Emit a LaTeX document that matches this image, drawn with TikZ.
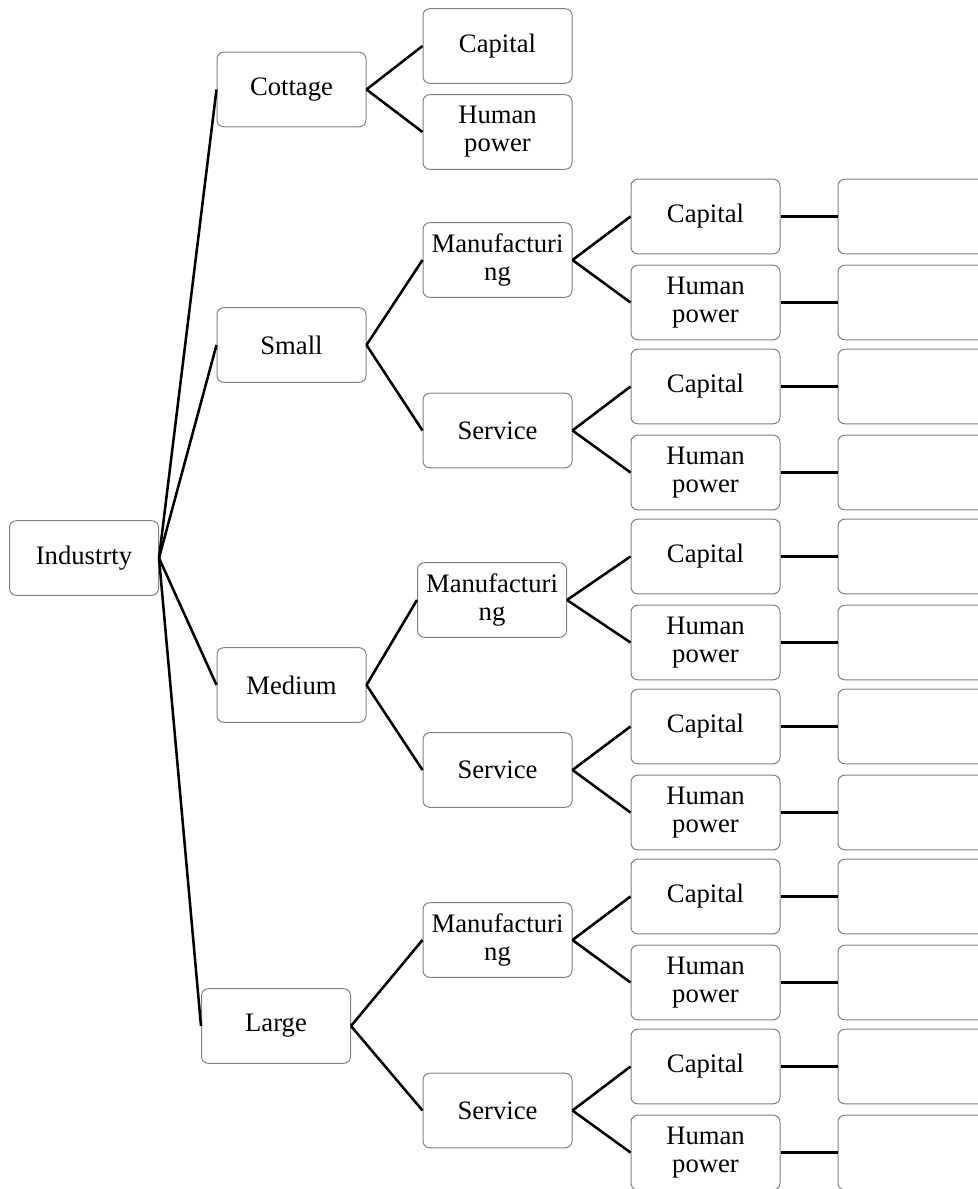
\documentclass[tikz,border=0pt]{standalone}
\usepackage{fontspec}
\setmainfont{Liberation Serif}
\begin{document}
\begin{tikzpicture}[x=0.75pt,y=-0.75pt,
  box/.style={draw=black!50,line width=0.75pt,rounded corners=5pt,fill=white,
    minimum width=111.75pt,minimum height=55.9pt,inner sep=0pt,align=center,
    font=\fontsize{20}{21}\selectfont},
  link/.style={line width=1.9pt,black}]
\clip (0,0) rectangle (978,1189);
\fill[white] (0,0) rectangle (978,1189);
% level 1
\node[box] (ind) at (84,558) {Industrty};
% level 2
\node[box] (cot) at (291.5,89.5) {Cottage};
\node[box] (sml) at (291.5,345) {Small};
\node[box] (med) at (291.5,685) {Medium};
\node[box] (lrg) at (276,1026) {Large};
% cottage children
\node[box] (cotC) at (497.5,46) {Capital};
\node[box] (cotH) at (497.5,132) {Human\\power};
% level 3
\node[box] (smM) at (497.5,260) {Manufacturi\\ng};
\node[box] (smS) at (497.5,430.5) {Service};
\node[box] (mdM) at (492,600) {Manufacturi\\ng};
\node[box] (mdS) at (497.5,770) {Service};
\node[box] (lgM) at (497.5,940) {Manufacturi\\ng};
\node[box] (lgS) at (497.5,1110.5) {Service};
% level 4 and empty boxes
\foreach \p/\y in {smM/216.5,smS/386.5,mdM/556.5,mdS/726.5,lgM/896.5,lgS/1066.5}{
  \node[box] (\p C) at (705.5,\y) {Capital};
  \node[box] (\p H) at (705.5,\y+86) {Human\\power};
  \node[box] (\p CE) at (912.5,\y) {};
  \node[box] (\p HE) at (912.5,\y+86) {};
  \draw[link] (\p.east) -- (\p C.west);
  \draw[link] (\p.east) -- (\p H.west);
  \draw[link] (\p C.east) -- (\p CE.west);
  \draw[link] (\p H.east) -- (\p HE.west);
}
% connectors
\foreach \c in {cot,sml,med,lrg} \draw[link] (ind.east) -- (\c.west);
\draw[link] (cot.east) -- (cotC.west);
\draw[link] (cot.east) -- (cotH.west);
\draw[link] (sml.east) -- (smM.west);
\draw[link] (sml.east) -- (smS.west);
\draw[link] (med.east) -- (mdM.west);
\draw[link] (med.east) -- (mdS.west);
\draw[link] (lrg.east) -- (lgM.west);
\draw[link] (lrg.east) -- (lgS.west);
\end{tikzpicture}
\end{document}
